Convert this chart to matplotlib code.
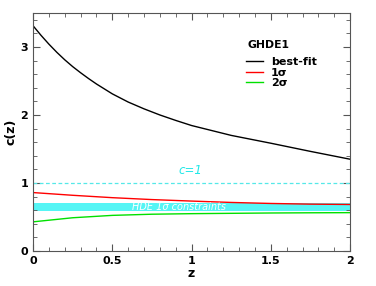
import numpy as np
import matplotlib
matplotlib.use("Agg")
import matplotlib.pyplot as plt
from matplotlib.ticker import MultipleLocator

# 读图估计的数据
z_best = [0.0, 0.05, 0.1, 0.15, 0.2, 0.25, 0.3, 0.35, 0.4, 0.5, 0.6, 0.7,
          0.8, 0.9, 1.0, 1.25, 1.5, 1.75, 2.0]
c_best = [3.31, 3.17, 3.04, 2.92, 2.81, 2.71, 2.62, 2.535, 2.455, 2.31, 2.19,
          2.09, 2.00, 1.92, 1.845, 1.70, 1.585, 1.465, 1.35]

z_sig = [0.0, 0.25, 0.5, 0.75, 1.0, 1.25, 1.5, 1.75, 2.0]
c_1sig = [0.86, 0.82, 0.785, 0.757, 0.735, 0.715, 0.70, 0.69, 0.685]
c_2sig = [0.43, 0.49, 0.525, 0.542, 0.55, 0.555, 0.56, 0.563, 0.565]

hde_band = [0.59, 0.705]   # HDE 1σ 约束区间
c_one = 1.0

fig = plt.figure(figsize=(3.76, 2.86), dpi=100)
ax = fig.add_axes([0.088, 0.122, 0.843, 0.833])

# HDE 约束带
ax.axhspan(hde_band[0], hde_band[1], color='#55f5f5', lw=0)
ax.text(0.92, np.mean(hde_band) - 0.005, 'HDE 1σ constraints',
        color='white', style='italic', fontsize=7, ha='center', va='center')

# c=1 虚线
ax.axhline(c_one, color='#55e8e8', ls='--', lw=0.9, dashes=(3, 2))
ax.text(0.99, 1.19, 'c=1', color='#22e8e8', style='italic', fontsize=8.5,
        ha='center', va='center')

ax.plot(z_best, c_best, color='black', lw=1.0, label='best-fit')
ax.plot(z_sig, c_1sig, color='red', lw=1.0, label='1σ')
ax.plot(z_sig, c_2sig, color='#00e000', lw=1.0, label='2σ')

ax.set_xlim(0, 2)
ax.set_ylim(0, 3.5)
ax.xaxis.set_major_locator(MultipleLocator(0.5))
ax.xaxis.set_minor_locator(MultipleLocator(0.1))
ax.yaxis.set_major_locator(MultipleLocator(1))
ax.yaxis.set_minor_locator(MultipleLocator(0.2))
ax.set_xticks([0, 0.5, 1, 1.5, 2])
ax.set_xticklabels(['0', '0.5', '1', '1.5', '2'])
ax.tick_params(which='both', direction='in', top=True, right=True,
               color='#555555')
ax.tick_params(which='major', length=5, labelsize=8)
ax.tick_params(which='minor', length=3)
for lab in ax.get_xticklabels() + ax.get_yticklabels():
    lab.set_fontweight('bold')
for s in ax.spines.values():
    s.set_color('#555555')

ax.set_xlabel('z', fontsize=9, fontweight='bold', labelpad=1)
ax.set_ylabel('c(z)', fontsize=9, fontweight='bold', labelpad=2)

# 图例标题单独写，和条目之间留更大的空
ax.text(0.675, 0.866, 'GHDE1', transform=ax.transAxes, fontsize=7.8,
        fontweight='bold', ha='left', va='center')
leg = ax.legend(loc='upper left', bbox_to_anchor=(0.648, 0.847), frameon=False,
                fontsize=8, handlelength=1.5, handletextpad=0.7,
                labelspacing=0.05, borderpad=0.2)
for t in leg.get_texts():
    t.set_fontweight('bold')

fig.savefig('out.png', dpi=100)
